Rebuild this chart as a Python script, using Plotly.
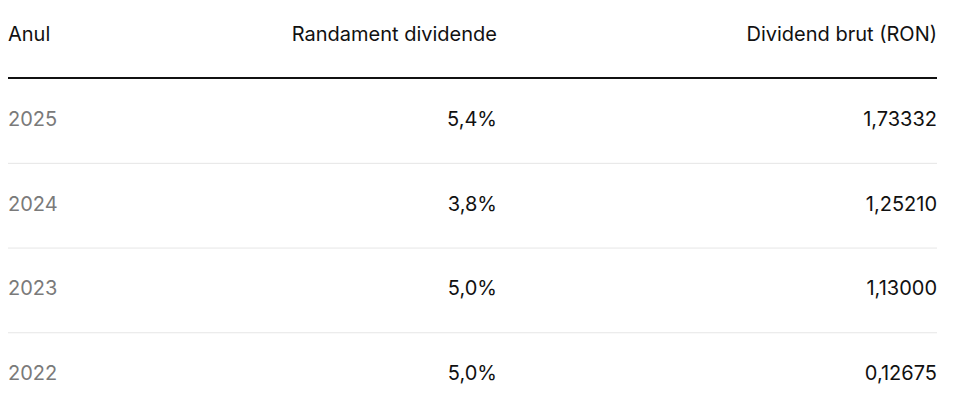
import plotly.graph_objects as go

headers = ["Anul", "Randament dividende", "Dividend brut (RON)"]
years = ["2025", "2024", "2023", "2022"]
yields = ["5,4%", "3,8%", "5,0%", "5,0%"]
dividends = ["1,73332", "1,25210", "1,13000", "0,12675"]

# page body adds 8px margin, so shift everything back by that
W, H = 955, 412
left, mid, right = 0, 489, 929
header_y, rule_y = 28, 70
row0, row_h = 113, 84.7

row_y = [row0 + i * row_h for i in range(len(years))]
font = dict(family="Inter", size=20)

fig = go.Figure()
fig.add_trace(go.Scatter(x=[left], y=[header_y], text=[headers[0]], mode="text",
                         textposition="middle right", textfont=dict(font, color="#111")))
fig.add_trace(go.Scatter(x=[mid, right], y=[header_y] * 2, text=headers[1:], mode="text",
                         textposition="middle left", textfont=dict(font, color="#111")))
fig.add_trace(go.Scatter(x=[left] * len(years), y=row_y, text=years, mode="text",
                         textposition="middle right", textfont=dict(font, color="#7a7a7a")))
fig.add_trace(go.Scatter(x=[mid] * len(yields), y=row_y, text=yields, mode="text",
                         textposition="middle left", textfont=dict(font, color="#111")))
fig.add_trace(go.Scatter(x=[right] * len(dividends), y=row_y, text=dividends, mode="text",
                         textposition="middle left", textfont=dict(font, color="#111")))

fig.add_shape(type="line", x0=left, x1=right, y0=rule_y, y1=rule_y,
              line=dict(color="#111", width=2))
for i in range(len(years) - 1):
    y = (row_y[i] + row_y[i + 1]) / 2
    fig.add_shape(type="line", x0=left, x1=right, y0=y, y1=y,
                  line=dict(color="#e6e6e6", width=1))

fig.update_layout(width=W, height=H, margin=dict(l=0, r=0, t=0, b=0),
                  showlegend=False, plot_bgcolor="white", paper_bgcolor="white",
                  xaxis=dict(range=[0, W], visible=False, fixedrange=True),
                  yaxis=dict(range=[H, 0], visible=False, fixedrange=True))
fig.write_html("out.html", config={"displayModeBar": False})
